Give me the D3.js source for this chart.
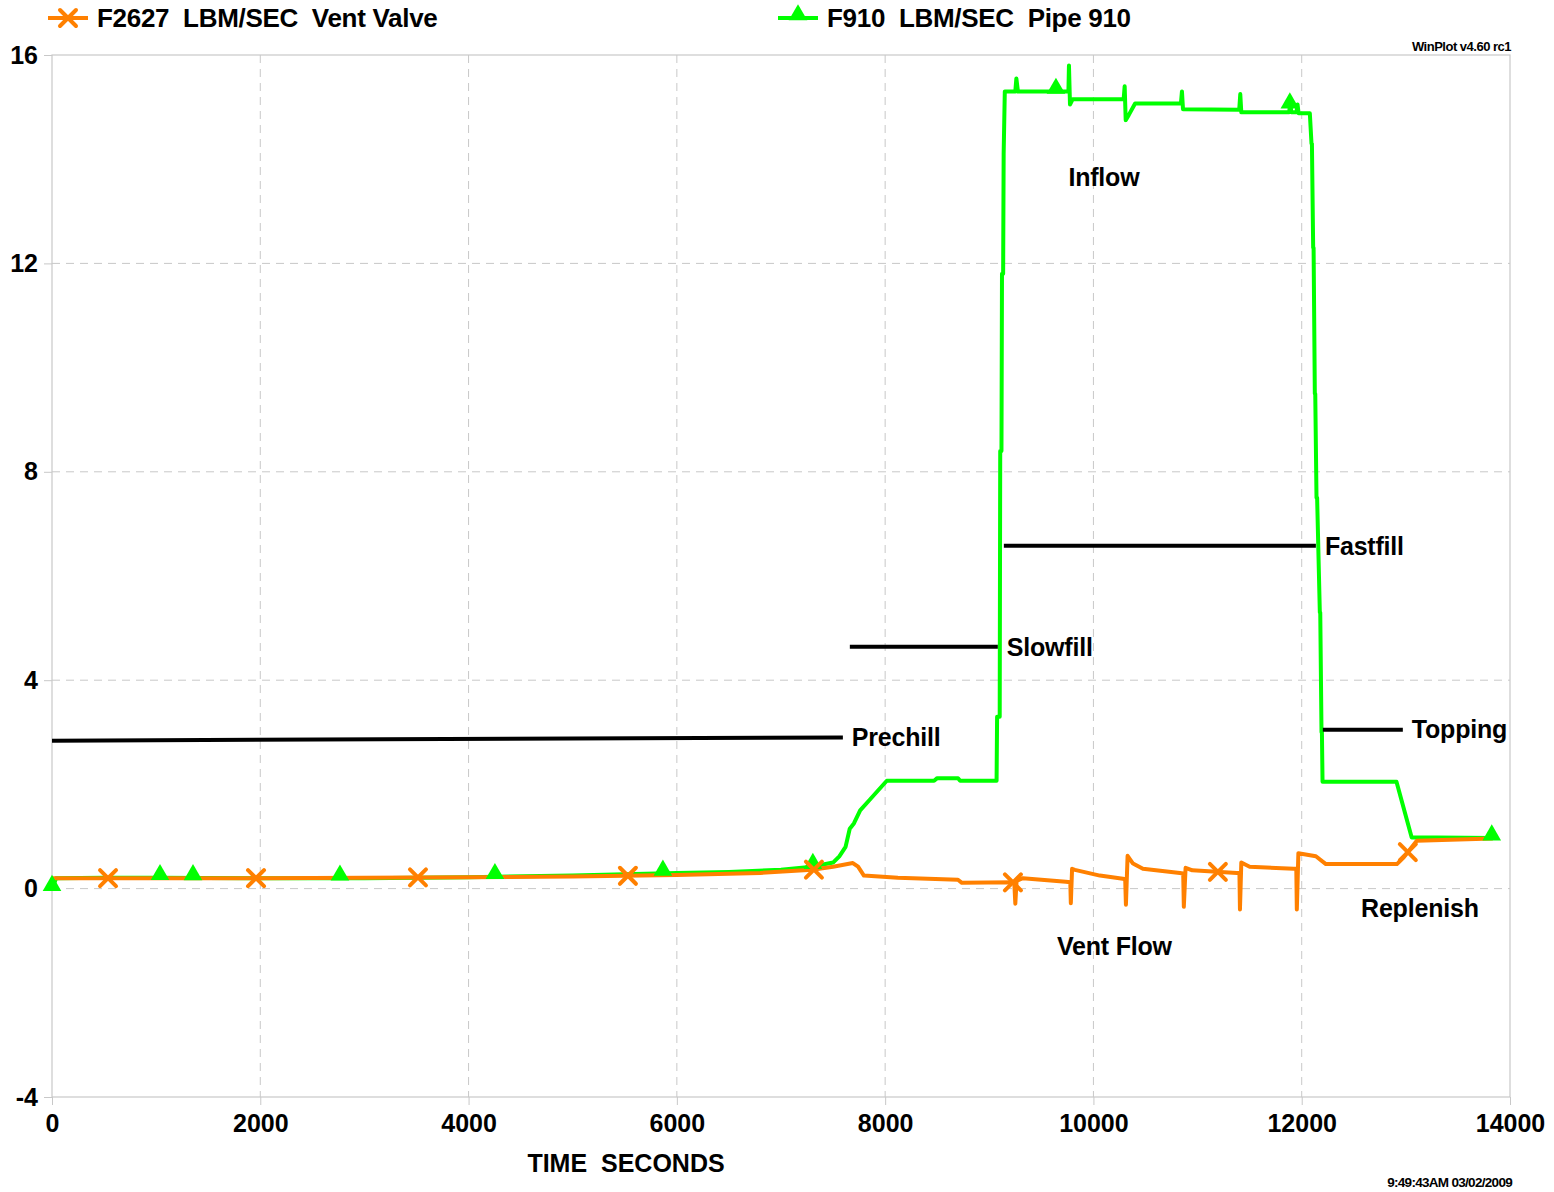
<!DOCTYPE html>
<html>
<head>
<meta charset="utf-8">
<script src="https://cdn.jsdelivr.net/npm/d3@7"></script>
<style>
  body { margin: 0; background: #fff; }
  svg text { font-family: "Liberation Sans", Arial, sans-serif; font-weight: bold; fill: #000; }
</style>
</head>
<body>
<svg id="chart"></svg>
<script>
// F910 LBM/SEC Pipe 910 (time in seconds, flow)
const pipeTime = [0, 40, 500, 1000, 2000, 3000, 4000, 5000, 6000, 6500, 7000, 7300, 7500, 7560, 7620, 7660, 7700, 7760, 7850, 8016,
  8470, 8500, 8700, 8720, 9070, 9075, 9100, 9105, 9117, 9122, 9133, 9138, 9149,
  9250, 9260, 9275, 9760, 9765, 9775, 9800, 10290, 10300, 10310, 10340, 10400, 10840, 10850, 10860,
  11400, 11410, 11420, 11880, 11890, 11900, 11950, 11960, 11970, 12078,
  12094, 12098, 12110, 12114, 12126, 12130, 12142, 12148, 12174, 12178, 12190, 12194, 12200, 12910, 13056, 13300, 13835]
const pipeFlow = [0, 0.2, 0.21, 0.21, 0.2, 0.2, 0.22, 0.25, 0.3, 0.32, 0.36, 0.42, 0.5, 0.62, 0.8, 1.15, 1.25, 1.5, 1.7, 2.07,
  2.07, 2.12, 2.12, 2.07, 2.07, 3.3, 3.3, 8.4, 8.4, 11.8, 11.8, 14.1, 15.3,
  15.3, 15.55, 15.3, 15.3, 15.8, 15.05, 15.15, 15.15, 15.4, 14.75, 14.85, 15.07, 15.07, 15.3, 14.96,
  14.95, 15.25, 14.9, 14.9, 15.1, 14.9, 14.9, 15.05, 14.88, 14.88,
  14.3, 14.3, 12.3, 12.3, 9.5, 9.5, 7.5, 7.5, 5.3, 5.3, 3.0, 3.0, 2.05, 2.05, 0.98, 0.98, 0.97]

// F2627 LBM/SEC Vent Valve
const ventTime = [0, 2000, 4000, 5000, 6000, 6800, 7300, 7500, 7690, 7740, 7796, 8122, 8699, 8737, 9240, 9250, 9262, 9323,
  9735, 9778, 9783, 9795, 9822, 10062, 10283, 10305, 10312, 10328, 10380, 10475, 10830, 10862, 10868, 10885, 10950,
  11377, 11402, 11407, 11420, 11500, 11925, 11948, 11953, 11968, 12136, 12232, 12914, 12980, 13105, 13835]
const ventFlow = [0.2, 0.2, 0.22, 0.23, 0.26, 0.3, 0.36, 0.42, 0.49, 0.42, 0.25, 0.21, 0.17, 0.11, 0.12, -0.29, 0.15, 0.2,
  0.13, 0.12, -0.28, 0.38, 0.36, 0.25, 0.19, 0.18, -0.31, 0.63, 0.48, 0.38, 0.3, 0.29, -0.35, 0.4, 0.35,
  0.3, 0.3, -0.4, 0.5, 0.42, 0.38, 0.38, -0.4, 0.68, 0.62, 0.47, 0.47, 0.6, 0.92, 0.96]

// symbol positions along each series
const ventMarkTimes = [538, 1959, 3514, 5530, 7316, 9227, 11195, 13019]
const pipeMarkTimes = [0, 1037, 1354, 2765, 4253, 5866, 7306, 9640, 11886, 13825]

// phase bars: label, start, end, level at start, level at end
const phaseNames = ['Prechill', 'Slowfill', 'Fastfill', 'Topping']
const phaseStart = [0, 7661, 9140, 12203]
const phaseEnd = [7594, 9082, 12136, 12971]
const phaseLevelA = [2.84, 4.64, 6.58, 3.05]
const phaseLevelB = [2.90, 4.64, 6.58, 3.05]

// free labels: text, time, level
const noteNames = ['Inflow', 'Vent Flow', 'Replenish']
const noteTime = [9760, 9650, 12570]
const noteLevel = [13.65, -1.1, -0.38]

const xTicks = [0, 2000, 4000, 6000, 8000, 10000, 12000, 14000]
const yTicks = [-4, 0, 4, 8, 12, 16]

const W = 1554, H = 1192
const plotLeft = 52, plotRight = 1510, plotTop = 55, plotBottom = 1097
const ORANGE = '#ff8000', GREEN = '#00ff00', GRID = '#c8c8c8'

const svg = d3.select('#chart').attr('width', W).attr('height', H)

const x = d3.scaleLinear().domain([0, 14000]).range([plotLeft, plotRight])
const y = d3.scaleLinear().domain([-4, 16]).range([plotBottom, plotTop])

// grid
svg.append('g').selectAll('line').data(xTicks.slice(1, -1)).join('line')
    .attr('x1', d => x(d)).attr('x2', d => x(d)).attr('y1', plotTop).attr('y2', plotBottom)
    .attr('stroke', GRID).attr('stroke-dasharray', '8,6')
svg.append('g').selectAll('line').data(yTicks.slice(1, -1)).join('line')
    .attr('x1', plotLeft).attr('x2', plotRight).attr('y1', d => y(d)).attr('y2', d => y(d))
    .attr('stroke', GRID).attr('stroke-dasharray', '8,6')

// frame
svg.append('rect').attr('x', plotLeft).attr('y', plotTop)
    .attr('width', plotRight - plotLeft).attr('height', plotBottom - plotTop)
    .attr('fill', 'none').attr('stroke', GRID).attr('stroke-width', 1.2)

// axes
const yAxis = svg.append('g').attr('transform', `translate(${plotLeft},0)`)
    .call(d3.axisLeft(y).tickValues(yTicks).tickSize(8).tickPadding(6).tickFormat(d => String(d)))
const xAxis = svg.append('g').attr('transform', `translate(0,${plotBottom})`)
    .call(d3.axisBottom(x).tickValues(xTicks).tickSize(8).tickPadding(8).tickFormat(d => String(d)))
svg.selectAll('.domain').remove()
svg.selectAll('.tick line').attr('stroke', GRID)
svg.selectAll('.tick text').style('font-size', '25px').style('font-family', '"Liberation Sans", Arial, sans-serif')
    .style('font-weight', 'bold').attr('fill', '#000')
xAxis.selectAll('.tick text').attr('dy', '0.75em')

// series
const line = d3.line().x(d => x(d[0])).y(d => y(d[1]))
const pipeData = pipeTime.map((t, i) => [t, pipeFlow[i]])
const ventData = ventTime.map((t, i) => [t, ventFlow[i]])

svg.append('path').datum(pipeData).attr('d', line)
    .attr('fill', 'none').attr('stroke', GREEN).attr('stroke-width', 4).attr('stroke-linejoin', 'round')
svg.append('path').datum(ventData).attr('d', line)
    .attr('fill', 'none').attr('stroke', ORANGE).attr('stroke-width', 4).attr('stroke-linejoin', 'round')

function valueAt(times, vals, t) {
    const i = d3.bisectLeft(times, t)
    if (i <= 0) return vals[0]
    if (i >= times.length) return vals[vals.length - 1]
    const t0 = times[i - 1], t1 = times[i]
    return vals[i - 1] + (vals[i] - vals[i - 1]) * (t - t0) / (t1 - t0)
}

const tri = d3.symbol().type(d3.symbolTriangle).size(150)
svg.append('g').selectAll('path').data(pipeMarkTimes).join('path')
    .attr('d', tri)
    .attr('transform', t => `translate(${x(t)},${y(valueAt(pipeTime, pipeFlow, t)) - 3})`)
    .attr('fill', GREEN)

function cross(g, cx, cy, r) {
    g.append('path').attr('d', `M${cx - r},${cy - r}L${cx + r},${cy + r}M${cx - r},${cy + r}L${cx + r},${cy - r}`)
        .attr('stroke', ORANGE).attr('stroke-width', 4).attr('stroke-linecap', 'round')
}
const crossG = svg.append('g')
ventMarkTimes.forEach(t => cross(crossG, x(t), y(valueAt(ventTime, ventFlow, t)), 8))

// phase bars and labels
phaseNames.forEach((name, i) => {
    svg.append('line')
        .attr('x1', x(phaseStart[i])).attr('x2', x(phaseEnd[i]))
        .attr('y1', y(phaseLevelA[i])).attr('y2', y(phaseLevelB[i]))
        .attr('stroke', '#000').attr('stroke-width', 4)
    svg.append('text')
        .attr('x', x(phaseEnd[i]) + 9).attr('y', y(phaseLevelB[i]))
        .attr('dy', '0.35em').style('font-size', '25px').style('letter-spacing', '-0.2px')
        .text(name)
})
noteNames.forEach((name, i) => {
    svg.append('text')
        .attr('x', x(noteTime[i])).attr('y', y(noteLevel[i]))
        .attr('dy', '0.35em').style('font-size', '25px').style('letter-spacing', '-0.2px')
        .text(name)
})

// legend
const legend = svg.append('g')
legend.append('line').attr('x1', 48).attr('x2', 88).attr('y1', 18).attr('y2', 18)
    .attr('stroke', ORANGE).attr('stroke-width', 4)
cross(legend, 68, 18, 8)
legend.append('text').attr('x', 97).attr('y', 18).attr('dy', '0.35em')
    .style('font-size', '26px').style('letter-spacing', '-0.3px').style('white-space', 'pre')
    .text('F2627  LBM/SEC  Vent Valve')
legend.append('line').attr('x1', 778).attr('x2', 818).attr('y1', 18).attr('y2', 18)
    .attr('stroke', GREEN).attr('stroke-width', 4)
legend.append('path').attr('d', tri).attr('transform', 'translate(798,15)').attr('fill', GREEN)
legend.append('text').attr('x', 827).attr('y', 18).attr('dy', '0.35em')
    .style('font-size', '26px').style('letter-spacing', '-0.3px').style('white-space', 'pre')
    .text('F910  LBM/SEC  Pipe 910')

// axis title and stamps
svg.append('text').attr('x', 626).attr('y', 1163).attr('dy', '0.35em')
    .attr('text-anchor', 'middle').style('font-size', '25px').style('letter-spacing', '0px')
    .style('white-space', 'pre').text('TIME  SECONDS')
svg.append('text').attr('x', 1511).attr('y', 46).attr('dy', '0.35em')
    .attr('text-anchor', 'end').style('font-size', '13px').style('letter-spacing', '-0.5px')
    .text('WinPlot v4.60 rc1')
svg.append('text').attr('x', 1512).attr('y', 1182).attr('dy', '0.35em')
    .attr('text-anchor', 'end').style('font-size', '13.5px').style('letter-spacing', '-0.7px')
    .text('9:49:43AM 03/02/2009')
</script>
</body>
</html>
